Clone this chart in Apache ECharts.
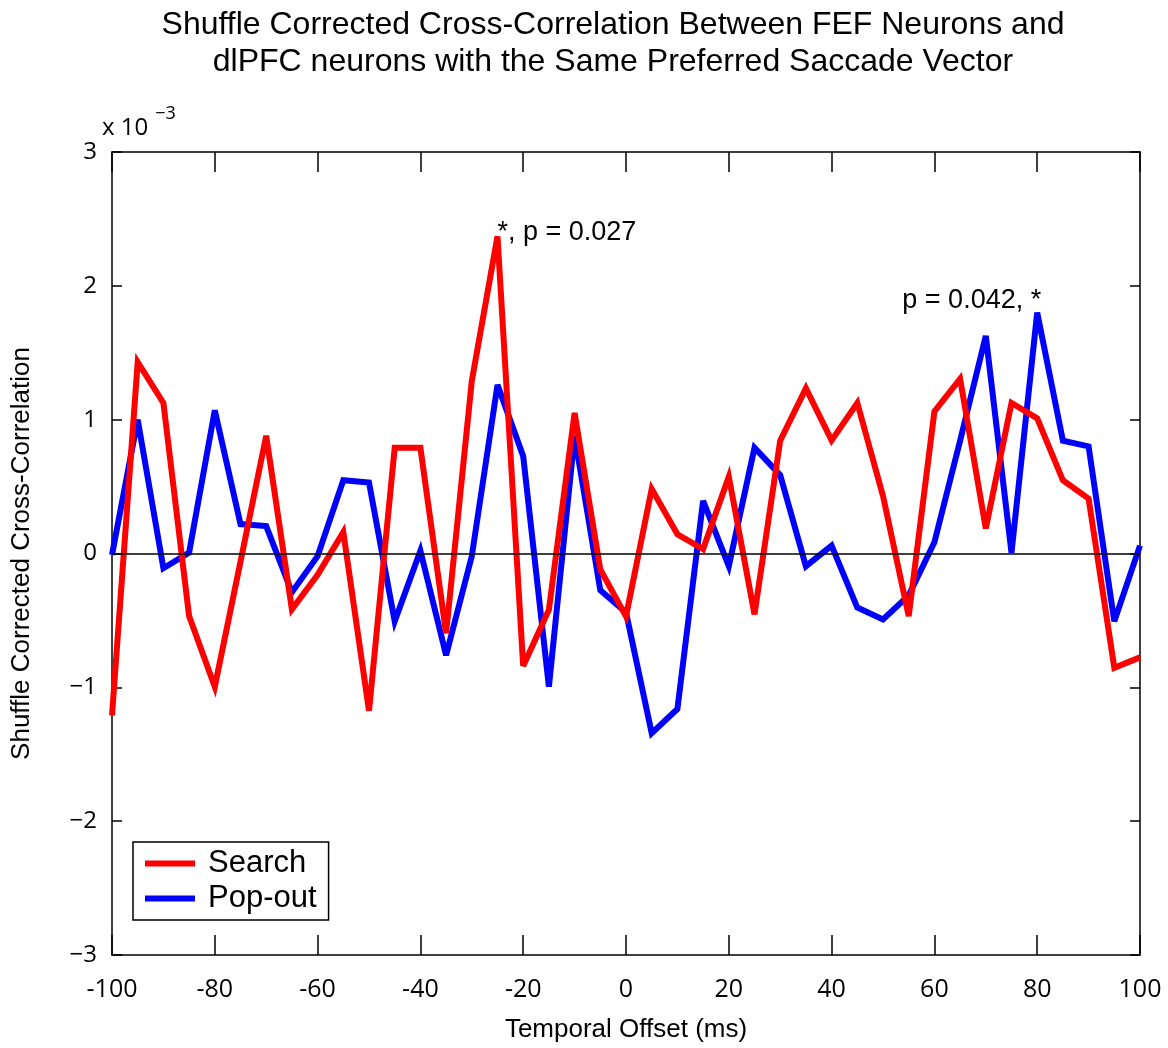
<!DOCTYPE html>
<html>
<head>
<meta charset="utf-8">
<title>Shuffle Corrected Cross-Correlation</title>
<script src="https://cdn.jsdelivr.net/npm/echarts@6/dist/echarts.min.js"></script>
<style>
  html, body { margin: 0; padding: 0; background: #fff; }
  #chart { width: 1168px; height: 1048px; }
</style>
</head>
<body>
<div id="chart"></div>
<script>
// Temporal offsets (ms) of the cross-correlation bins
var offsets = [-100, -95, -90, -85, -80, -75, -70, -65, -60, -55, -50,
               -45, -40, -35, -30, -25, -20, -15, -10, -5, 0,
               5, 10, 15, 20, 25, 30, 35, 40, 45, 50,
               55, 60, 65, 70, 75, 80, 85, 90, 95, 100];

// Shuffle corrected cross-correlation, in units of 10^-3
var searchValues = [-1.21, 1.43, 1.125, -0.468, -0.995, -0.06, 0.88, -0.417, -0.16, 0.16, -1.175,
                    0.79, 0.79, -0.596, 1.29, 2.37, -0.84, -0.42, 1.05, -0.12, -0.47,
                    0.483, 0.144, 0.033, 0.573, -0.455, 0.843, 1.234, 0.845, 1.125, 0.43,
                    -0.468, 1.061, 1.305, 0.187, 1.125, 1.01, 0.547, 0.41, -0.854, -0.776];

var popoutValues = [-0.01, 1.0, -0.11, 0.007, 1.07, 0.22, 0.205, -0.29, -0.02, 0.547, 0.53,
                    -0.507, 0.02, -0.76, -0.02, 1.26, 0.727, -0.995, 0.88, -0.275, -0.44,
                    -1.342, -1.162, 0.393, -0.095, 0.79, 0.586, -0.095, 0.059, -0.404, -0.493,
                    -0.313, 0.084, 0.843, 1.626, 0.007, 1.80, 0.843, 0.80, -0.507, 0.059];

var seriesNames = ['Search', 'Pop-out'];
var xTicks = { min: -100, max: 100, step: 20 };
var yTicks = { min: -3, max: 3, step: 1 };

// Significance notes attached to the peaks
var searchNote = { offset: -25, text: '*, p = 0.027' };
var popoutNote = { offset: 80, text: 'p = 0.042, *' };

var SANS = "'Liberation Sans', Arial, Helvetica, sans-serif";
var TICKFONT = "'Open Sans', 'Liberation Sans', sans-serif";

function pairs(values) {
  return offsets.map(function (t, i) { return [t, values[i]]; });
}
function valueAt(values, t) {
  return values[offsets.indexOf(t)];
}
function minusSign(v) {
  return v < 0 ? '\u2212' + Math.abs(v) : String(v);
}

var chart = echarts.init(document.getElementById('chart'), null, { renderer: 'canvas' });

var boxLine = { show: true, onZero: false, lineStyle: { color: '#000', width: 1.5 } };

var option = {
  backgroundColor: '#fff',
  animation: false,
  title: {
    text: 'Shuffle Corrected Cross-Correlation Between FEF Neurons and\ndlPFC neurons with the Same Preferred Saccade Vector',
    left: 608,
    top: 2,
    textAlign: 'center',
    textStyle: {
      fontFamily: SANS, fontSize: 32, fontWeight: 'normal', color: '#000', lineHeight: 37
    }
  },
  grid: { left: 112, right: 28, top: 152, bottom: 93, containLabel: false },
  legend: {
    orient: 'vertical',
    left: 133,
    top: 842,
    padding: [5, 12, 5, 12],
    itemWidth: 50,
    itemHeight: 6,
    itemGap: 2,
    icon: 'rect',
    backgroundColor: '#fff',
    borderColor: '#000',
    borderWidth: 1.5,
    borderRadius: 0,
    z: 10,
    textStyle: {
      fontFamily: SANS, fontSize: 31, color: '#000', lineHeight: 33, padding: [0, 0, 0, 8]
    },
    data: seriesNames
  },
  xAxis: [{
    type: 'value',
    min: xTicks.min, max: xTicks.max, interval: xTicks.step,
    position: 'bottom',
    axisLine: boxLine,
    axisTick: { show: true, inside: true, length: 20, lineStyle: { color: '#000', width: 1.5 } },
    axisLabel: {
      show: true, margin: 22, color: '#000', fontFamily: TICKFONT, fontSize: 25,
      formatter: function (v) { return String(v); }
    },
    splitLine: { show: false },
    name: 'Temporal Offset (ms)',
    nameLocation: 'middle',
    nameGap: 62,
    nameTextStyle: { fontFamily: SANS, fontSize: 26, color: '#000' }
  }, {
    type: 'value',
    min: xTicks.min, max: xTicks.max, interval: xTicks.step,
    position: 'top',
    axisLine: boxLine,
    axisTick: { show: true, inside: true, length: 20, lineStyle: { color: '#000', width: 1.5 } },
    axisLabel: { show: false },
    splitLine: { show: false }
  }],
  yAxis: [{
    type: 'value',
    min: yTicks.min, max: yTicks.max, interval: yTicks.step,
    position: 'left',
    axisLine: boxLine,
    axisTick: { show: true, inside: true, length: 10, lineStyle: { color: '#000', width: 1.5 } },
    axisLabel: {
      show: true, margin: 15, color: '#000', fontFamily: TICKFONT, fontSize: 24,
      formatter: minusSign
    },
    splitLine: { show: false },
    name: 'Shuffle Corrected Cross-Correlation',
    nameLocation: 'middle',
    nameGap: 77,
    nameRotate: 90,
    nameTextStyle: { fontFamily: SANS, fontSize: 26, color: '#000' }
  }, {
    type: 'value',
    min: yTicks.min, max: yTicks.max, interval: yTicks.step,
    position: 'right',
    axisLine: boxLine,
    axisTick: { show: true, inside: true, length: 10, lineStyle: { color: '#000', width: 1.5 } },
    axisLabel: { show: false },
    splitLine: { show: false }
  }],
  graphic: [{
    type: 'text',
    left: 102,
    top: 105,
    z: 20,
    style: {
      text: '{b|x 10}{s|\u22123}',
      rich: {
        b: { fontFamily: TICKFONT, fontSize: 24, fill: '#000', verticalAlign: 'bottom', lineHeight: 34 },
        s: { fontFamily: TICKFONT, fontSize: 18, fill: '#000', padding: [0, 0, 18, 7], lineHeight: 34 }
      }
    }
  }],
  series: [{
    name: seriesNames[0],
    type: 'line',
    data: pairs(searchValues),
    showSymbol: false,
    symbol: 'none',
    z: 3,
    lineStyle: { color: '#ff0000', width: 6, join: 'miter', miterLimit: 4 },
    itemStyle: { color: '#ff0000' },
    markPoint: {
      symbol: 'circle',
      symbolSize: 0,
      silent: true,
      data: [{
        coord: [searchNote.offset, valueAt(searchValues, searchNote.offset)],
        label: {
          show: true, formatter: searchNote.text, position: [0, 0],
          align: 'left', verticalAlign: 'middle', offset: [0, -4],
          fontFamily: SANS, fontSize: 27, color: '#000'
        }
      }]
    }
  }, {
    name: seriesNames[1],
    type: 'line',
    data: pairs(popoutValues),
    showSymbol: false,
    symbol: 'none',
    z: 2,
    lineStyle: { color: '#0000ff', width: 6, join: 'miter', miterLimit: 4 },
    itemStyle: { color: '#0000ff' },
    markPoint: {
      symbol: 'circle',
      symbolSize: 0,
      silent: true,
      data: [{
        coord: [popoutNote.offset, valueAt(popoutValues, popoutNote.offset)],
        label: {
          show: true, formatter: popoutNote.text, position: [0, 0],
          align: 'right', verticalAlign: 'middle', offset: [4, -12],
          fontFamily: SANS, fontSize: 27, color: '#000'
        }
      }]
    }
  }, {
    // zero reference line across the plot
    name: 'zero',
    type: 'line',
    data: [],
    z: 4,
    markLine: {
      silent: true,
      symbol: 'none',
      label: { show: false },
      lineStyle: { color: '#000', width: 1.5, type: 'solid' },
      data: [{ yAxis: 0 }]
    }
  }]
};

chart.setOption(option);
</script>
</body>
</html>
